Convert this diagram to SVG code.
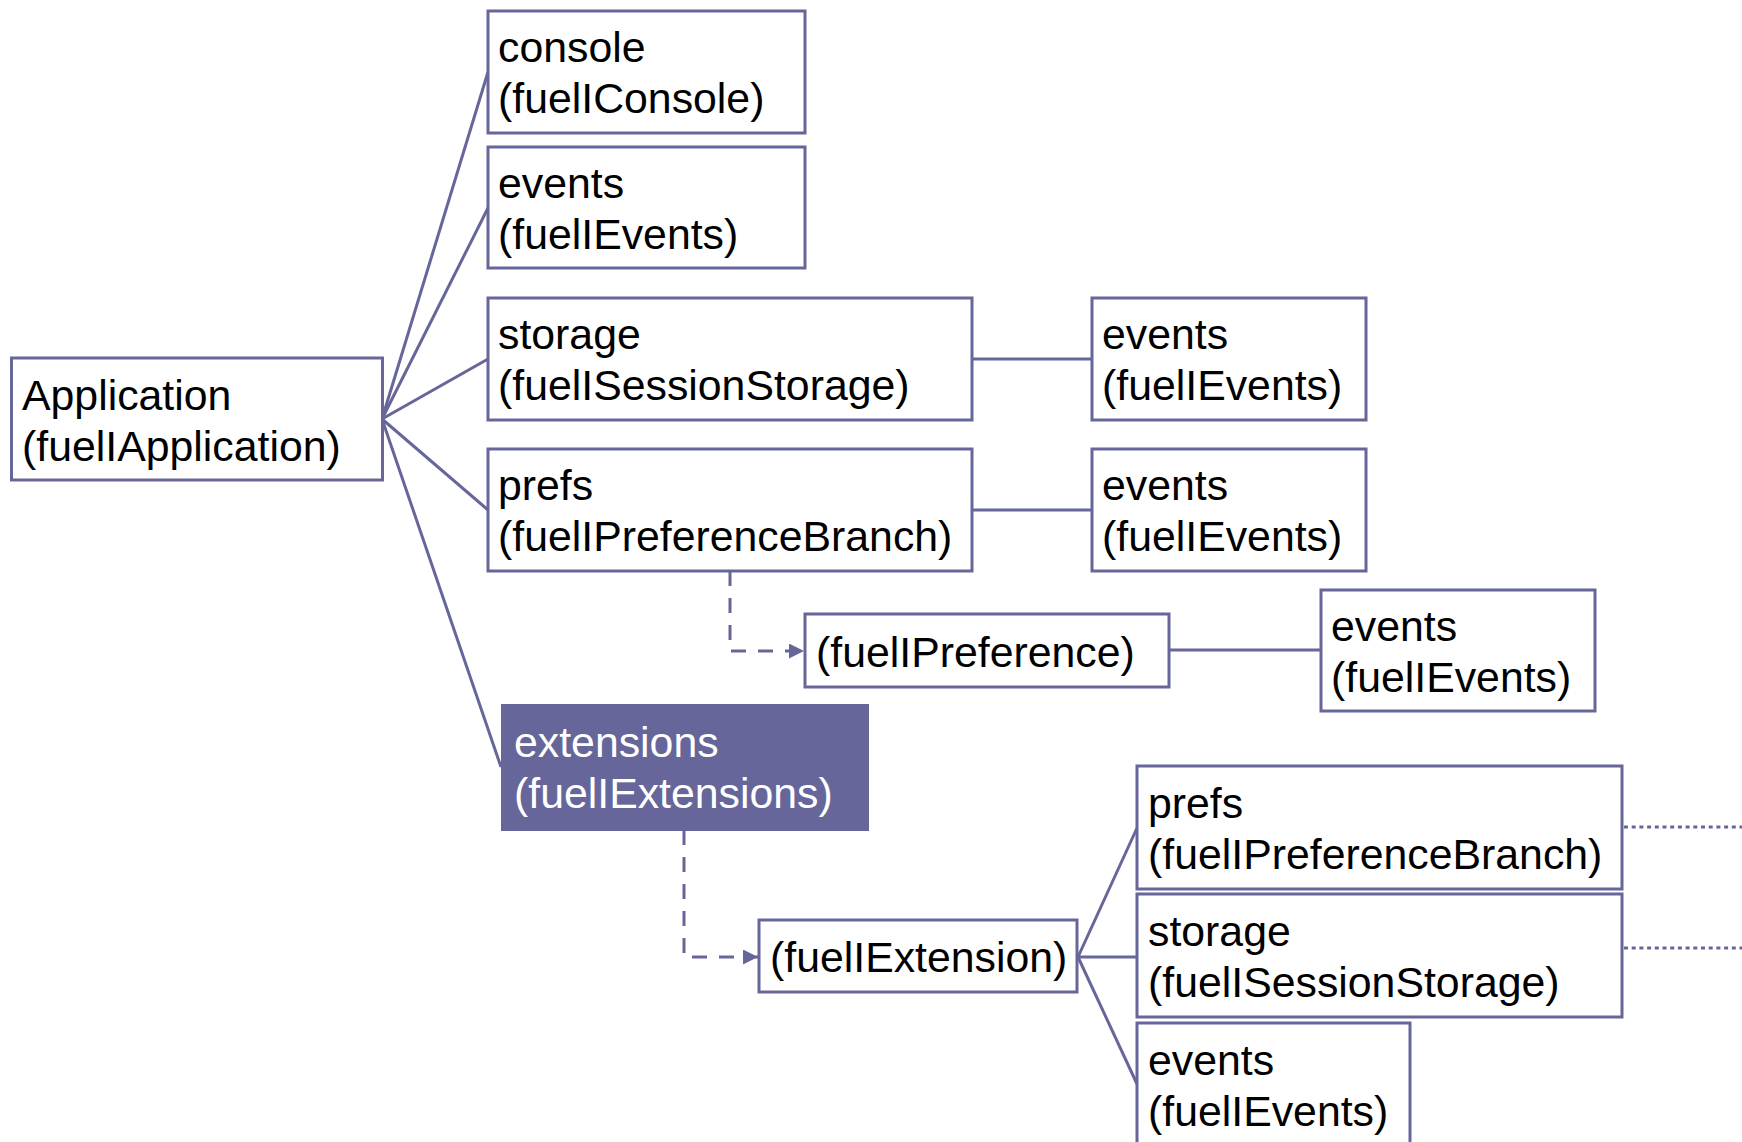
<svg xmlns="http://www.w3.org/2000/svg" width="1742" height="1142" viewBox="0 0 1742 1142">
<style>
.box{fill:#ffffff;stroke:#66669a;stroke-width:3}
.fill{fill:#66669a;stroke:#66669a;stroke-width:2}
.t{font-family:"Liberation Sans",Arial,sans-serif;font-size:42.8px;fill:#000000}
.tw{font-family:"Liberation Sans",Arial,sans-serif;font-size:42.8px;fill:#ffffff}
.ln{fill:none;stroke:#66669a;stroke-width:3}
.dash{fill:none;stroke:#66669a;stroke-width:3;stroke-dasharray:15 12}
.dot{fill:none;stroke:#66669a;stroke-width:3;stroke-dasharray:4 3.7}
</style>
<defs>
<marker id="arr" markerUnits="userSpaceOnUse" markerWidth="16" markerHeight="16" refX="15" refY="7.5" orient="auto">
<path d="M0,0 L15,7.5 L0,15 z" fill="#66669a"/>
</marker>
</defs>
<rect width="1742" height="1142" fill="#ffffff"/>
<g id="connectors">
<path class="ln" d="M382,419 L488,72"/>
<path class="ln" d="M382,419 L488,208"/>
<path class="ln" d="M382,419 L488,359"/>
<path class="ln" d="M382,419 L488,510"/>
<path class="ln" d="M382,419 L501,767"/>
<path class="ln" d="M972,359 H1092"/>
<path class="ln" d="M972,510 H1092"/>
<path class="ln" d="M1169,650 H1321"/>
<path class="dash" d="M730,571 V651 H804" marker-end="url(#arr)"/>
<path class="dash" d="M684,830 V957 H758" marker-end="url(#arr)"/>
<path class="ln" d="M1078,957 L1137,828"/>
<path class="ln" d="M1078,957 H1137"/>
<path class="ln" d="M1078,957 L1137,1084"/>
<path class="dot" d="M1624,827 H1742"/>
<path class="dot" d="M1624,948 H1742"/>
</g>
<g id="app">
<rect class="box" x="11.5" y="358" width="371" height="122"/>
<text class="t" x="22" y="410">Application</text>
<text class="t" x="22" y="461">(fuelIApplication)</text>
</g>
<g id="console">
<rect class="box" x="488" y="11" width="317" height="122"/>
<text class="t" x="498" y="62">console</text>
<text class="t" x="498" y="113">(fuelIConsole)</text>
</g>
<g id="events1">
<rect class="box" x="488" y="147" width="317" height="121"/>
<text class="t" x="498" y="198">events</text>
<text class="t" x="498" y="249">(fuelIEvents)</text>
</g>
<g id="storage">
<rect class="box" x="488" y="298" width="484" height="122"/>
<text class="t" x="498" y="349">storage</text>
<text class="t" x="498" y="400">(fuelISessionStorage)</text>
</g>
<g id="storage-events">
<rect class="box" x="1092" y="298" width="274" height="122"/>
<text class="t" x="1102" y="349">events</text>
<text class="t" x="1102" y="400">(fuelIEvents)</text>
</g>
<g id="prefs">
<rect class="box" x="488" y="449" width="484" height="122"/>
<text class="t" x="498" y="500">prefs</text>
<text class="t" x="498" y="551">(fuelIPreferenceBranch)</text>
</g>
<g id="prefs-events">
<rect class="box" x="1092" y="449" width="274" height="122"/>
<text class="t" x="1102" y="500">events</text>
<text class="t" x="1102" y="551">(fuelIEvents)</text>
</g>
<g id="preference">
<rect class="box" x="805" y="614" width="364" height="73"/>
<text class="t" x="816" y="667">(fuelIPreference)</text>
</g>
<g id="preference-events">
<rect class="box" x="1321" y="590" width="274" height="121"/>
<text class="t" x="1331" y="641">events</text>
<text class="t" x="1331" y="692">(fuelIEvents)</text>
</g>
<g id="extensions">
<rect class="fill" x="502" y="705" width="366" height="125"/>
<text class="tw" x="514" y="757">extensions</text>
<text class="tw" x="514" y="808">(fuelIExtensions)</text>
</g>
<g id="extension">
<rect class="box" x="759" y="920" width="318" height="72"/>
<text class="t" x="770" y="972">(fuelIExtension)</text>
</g>
<g id="ext-prefs">
<rect class="box" x="1137" y="766" width="485" height="123"/>
<text class="t" x="1148" y="818">prefs</text>
<text class="t" x="1148" y="869">(fuelIPreferenceBranch)</text>
</g>
<g id="ext-storage">
<rect class="box" x="1137" y="894" width="485" height="123"/>
<text class="t" x="1148" y="946">storage</text>
<text class="t" x="1148" y="997">(fuelISessionStorage)</text>
</g>
<g id="ext-events">
<rect class="box" x="1137" y="1023" width="273" height="124"/>
<text class="t" x="1148" y="1075">events</text>
<text class="t" x="1148" y="1126">(fuelIEvents)</text>
</g>
</svg>
